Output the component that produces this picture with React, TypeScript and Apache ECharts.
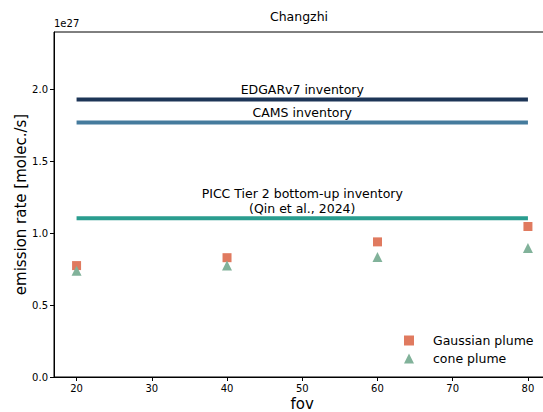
import React, { useEffect, useRef } from "react";
import * as echarts from "echarts";

const fovValues = [20, 40, 60, 80];
const gaussianPlume = [0.775, 0.83, 0.94, 1.047];
const conePlume = [0.74, 0.775, 0.834, 0.897];
const inventoryX = [20, 50, 80];
const edgarValue = 1.93;
const camsValue = 1.77;
const piccValue = 1.105;
const xTicks = [20, 30, 40, 50, 60, 70, 80];
const yTicks = [0, 0.5, 1.0, 1.5, 2.0];

const FONT = "DejaVu Sans";

function invSeries(name: string, value: number, color: string, label: string) {
  return {
    type: "line",
    name,
    data: inventoryX.map((x, i) => ({
      value: [x, value],
      label: { show: i === 1 },
    })),
    symbol: "circle",
    symbolSize: 1,
    showSymbol: true,
    showAllSymbol: true,
    itemStyle: { color: "rgba(0,0,0,0)", borderWidth: 0 },
    lineStyle: { color, width: 4 },
    label: {
      show: false,
      position: "top",
      distance: 2,
      formatter: label,
      fontFamily: FONT,
      fontSize: 12.5,
      lineHeight: 14.5,
      color: "#000",
      align: "center",
    },
    silent: true,
    z: 2,
  };
}

export default function App() {
  const ref = useRef<HTMLDivElement>(null);
  useEffect(() => {
    document.body.style.margin = "0";
    if (!ref.current) return;
    const chart = echarts.init(ref.current, null, { renderer: "svg" });
    chart.setOption({
      animation: false,
      backgroundColor: "#fff",
      grid: {
        left: 54,
        top: 32,
        right: -7.5,
        bottom: 35,
        show: true,
        borderColor: "#000",
        borderWidth: 1,
        outerBoundsMode: "none",
        containLabel: false,
      },
      title: {
        text: "Changzhi",
        left: 294,
        top: 5,
        textAlign: "center",
        textStyle: { fontFamily: FONT, fontSize: 12.5, fontWeight: "normal", color: "#000" },
      },
      graphic: [
        {
          type: "text",
          left: 54,
          top: 18,
          style: { text: "1e27", fontFamily: FONT, fontSize: 10, fill: "#000" },
        },
      ],
      legend: {
        orient: "vertical",
        left: 399,
        top: 329,
        itemWidth: 10,
        itemHeight: 10,
        itemGap: 5,
        data: [
          { name: "Gaussian plume", icon: "rect" },
          { name: "cone plume", icon: "triangle" },
        ],
        formatter: (n: string) => "{p|}" + n,
        textStyle: {
          fontFamily: FONT,
          fontSize: 12.5,
          color: "#000",
          rich: { p: { width: 14 } },
        },
      },
      xAxis: {
        type: "value",
        min: 17,
        max: 83,
        name: "fov",
        nameLocation: "middle",
        nameGap: 19,
        nameMoveOverlap: false,
        nameTextStyle: { fontFamily: FONT, fontSize: 15, color: "#000" },
        axisLine: { lineStyle: { color: "#000", width: 1 } },
        axisTick: { show: true, length: 4, lineStyle: { color: "#000" }, customValues: xTicks },
        axisLabel: { fontFamily: FONT, fontSize: 10, color: "#000", margin: 6, customValues: xTicks },
        splitLine: { show: false },
      },
      yAxis: {
        type: "value",
        min: 0,
        max: 2.4,
        name: "emission rate [molec./s]",
        nameLocation: "middle",
        nameGap: 26,
        nameMoveOverlap: false,
        nameTextStyle: { fontFamily: FONT, fontSize: 15, color: "#000" },
        axisLine: { show: true, lineStyle: { color: "#000", width: 1 } },
        axisTick: { show: true, length: 4, lineStyle: { color: "#000" }, customValues: yTicks },
        axisLabel: {
          fontFamily: FONT,
          fontSize: 10,
          color: "#000",
          margin: 6,
          customValues: yTicks,
          formatter: (v: number) => v.toFixed(1),
        },
        splitLine: { show: false },
      },
      series: [
        invSeries("EDGAR", edgarValue, "#1d3557", "EDGARv7 inventory"),
        invSeries("CAMS", camsValue, "#457b9d", "CAMS inventory"),
        invSeries("PICC", piccValue, "#2a9d8f", "PICC Tier 2 bottom-up inventory\n(Qin et al., 2024)"),
        {
          type: "scatter",
          name: "Gaussian plume",
          data: fovValues.map((x, i) => [x, gaussianPlume[i]]),
          symbol: "rect",
          symbolSize: 9,
          itemStyle: { color: "#e07a5f", opacity: 1 },
          z: 3,
        },
        {
          type: "scatter",
          name: "cone plume",
          data: fovValues.map((x, i) => [x, conePlume[i]]),
          symbol: "triangle",
          symbolSize: 10,
          itemStyle: { color: "#81b29a", opacity: 1 },
          z: 4,
        },
      ],
    });
    return () => chart.dispose();
  }, []);
  return <div ref={ref} style={{ width: 543, height: 412 }} />;
}
